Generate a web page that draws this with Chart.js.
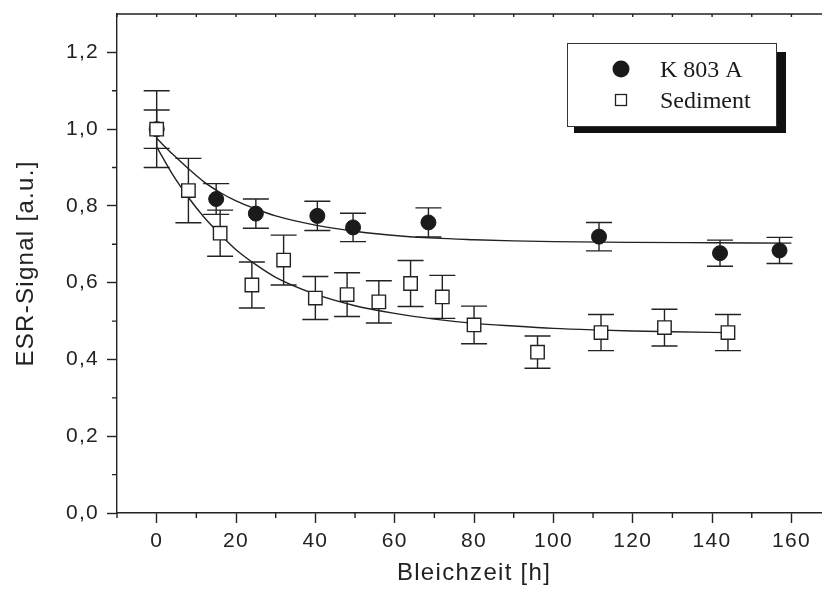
<!DOCTYPE html>
<html>
<head>
<meta charset="utf-8">
<script src="https://cdn.jsdelivr.net/npm/chart.js@4/dist/chart.umd.min.js"></script>
<style>
  html, body { margin: 0; padding: 0; background: #fff; overflow: hidden; }
  #wrap { width: 822px; height: 590px; overflow: hidden; }
</style>
</head>
<body>
<div id="wrap"><canvas id="c" width="832" height="590"></canvas></div>
<script>
// Bleaching curves: K 803 A vs. sediment
const K803_X = [0, 15, 25, 40.5, 49.5, 68.5, 111.5, 142, 157];
const K803_Y = [1.0, 0.818, 0.780, 0.774, 0.744, 0.757, 0.720, 0.677, 0.684];
const K803_ERR = [0.05, 0.04, 0.038, 0.038, 0.037, 0.038, 0.037, 0.034, 0.034];

const SED_X = [0, 8, 16, 24, 32, 40, 48, 56, 64, 72, 80, 96, 112, 128, 144];
const SED_Y = [1.0, 0.840, 0.729, 0.594, 0.659, 0.560, 0.569, 0.550, 0.598, 0.563, 0.490, 0.419, 0.470, 0.483, 0.470];
const SED_ERR = [0.1, 0.084, 0.06, 0.06, 0.065, 0.056, 0.057, 0.055, 0.06, 0.056, 0.049, 0.042, 0.047, 0.048, 0.047];

// fitted curves
const FIT_K_X = [0, 4, 8, 12, 16, 20, 25, 30, 40, 50, 60, 70, 80, 90, 100, 120, 140, 160];
const FIT_K_Y = [0.976, 0.935, 0.897, 0.862, 0.835, 0.813, 0.792, 0.774, 0.750, 0.734, 0.723, 0.716, 0.712, 0.709, 0.707, 0.705, 0.704, 0.703];
const FIT_S_X = [0, 4, 8, 12, 16, 20, 25, 30, 40, 50, 60, 70, 80, 90, 100, 110, 120, 130, 144];
const FIT_S_Y = [0.954, 0.882, 0.822, 0.770, 0.726, 0.686, 0.647, 0.614, 0.570, 0.540, 0.520, 0.505, 0.494, 0.487, 0.481, 0.477, 0.474, 0.472, 0.470];

const X_TICKS = [0, 20, 40, 60, 80, 100, 120, 140, 160];
const X_MINOR = [-10, 10, 30, 50, 70, 90, 110, 130, 150, 170];
const Y_TICKS = [0, 0.2, 0.4, 0.6, 0.8, 1.0, 1.2];
const Y_MINOR = [0.1, 0.3, 0.5, 0.7, 0.9, 1.1];

const LEGEND_LABELS = ['K 803 A', 'Sediment'];

const INK = '#222';
const PLOT_RIGHT = 831; // frame runs just past the cropped right edge
const toPts = (xs, ys) => xs.map((x, i) => ({ x, y: ys[i] }));

const errorBars = {
    id: 'errorBars',
    beforeDraw(chart) {
        // the reference lettering is a little wider than Liberation Sans
        chart.ctx.letterSpacing = '1.3px';
    },
    beforeDatasetsDraw(chart) {
        const { ctx, scales: { x, y } } = chart;
        const sets = [[K803_X, K803_Y, K803_ERR], [SED_X, SED_Y, SED_ERR]];
        ctx.save();
        ctx.strokeStyle = INK;
        ctx.lineWidth = 1.4;
        for (const [xs, ys, es] of sets) {
            xs.forEach((xv, i) => {
                const px = x.getPixelForValue(xv);
                const top = y.getPixelForValue(ys[i] + es[i]);
                const bot = y.getPixelForValue(ys[i] - es[i]);
                ctx.beginPath();
                ctx.moveTo(px, top); ctx.lineTo(px, bot);
                ctx.moveTo(px - 13, top); ctx.lineTo(px + 13, top);
                ctx.moveTo(px - 13, bot); ctx.lineTo(px + 13, bot);
                ctx.stroke();
            });
        }
        ctx.restore();
    },
};

const frame = {
    id: 'frame',
    afterDraw(chart) {
        const { ctx, chartArea: a, scales: { x, y } } = chart;
        ctx.save();
        ctx.strokeStyle = INK;
        ctx.lineWidth = 1.4;
        ctx.beginPath();
        // top axis
        ctx.moveTo(a.left, a.top); ctx.lineTo(a.right, a.top);
        for (const v of X_TICKS.concat(X_MINOR)) {
            const px = x.getPixelForValue(v);
            ctx.moveTo(px, a.top); ctx.lineTo(px, a.top + 3);
        }
        // minor ticks
        for (const v of X_MINOR) {
            const px = x.getPixelForValue(v);
            ctx.moveTo(px, a.bottom); ctx.lineTo(px, a.bottom + 5);
        }
        for (const v of Y_MINOR) {
            const py = y.getPixelForValue(v);
            ctx.moveTo(a.left, py); ctx.lineTo(a.left - 5, py);
        }
        ctx.stroke();

        // legend with drop shadow
        const bx = 567, by = 43, bw = 209, bh = 83;
        ctx.fillStyle = '#111';
        ctx.fillRect(bx + 7, by + 9, bw + 3, bh - 2);
        ctx.fillStyle = '#fff';
        ctx.fillRect(bx, by, bw, bh);
        ctx.lineWidth = 1;
        ctx.strokeStyle = '#333';
        ctx.strokeRect(bx + 0.5, by + 0.5, bw, bh);

        ctx.fillStyle = '#1a1a1a';
        ctx.beginPath();
        ctx.arc(621, 69, 8.5, 0, Math.PI * 2);
        ctx.fill();
        ctx.strokeStyle = INK;
        ctx.lineWidth = 1.3;
        ctx.strokeRect(615.5, 94.5, 11, 11);

        ctx.fillStyle = '#1a1a1a';
        ctx.letterSpacing = '0px';
        ctx.font = '24px "Liberation Serif", "Times New Roman", serif';
        ctx.textBaseline = 'alphabetic';
        ctx.fillText(LEGEND_LABELS[0], 660, 77);
        ctx.fillText(LEGEND_LABELS[1], 660, 108);
        ctx.restore();
    },
};

const tickFont = { family: '"Liberation Sans", Arial, sans-serif', size: 21 };
const titleFont = { family: '"Liberation Sans", Arial, sans-serif', size: 24 };

function build(canvas) {
    return new Chart(canvas, {
        type: 'scatter',
        data: {
            datasets: [
                {
                    label: LEGEND_LABELS[1],
                    data: toPts(SED_X, SED_Y),
                    pointStyle: 'rect',
                    pointRadius: 9.5,
                    backgroundColor: '#fff',
                    borderColor: INK,
                    borderWidth: 1.4,
                    order: 0,
                },
                {
                    label: LEGEND_LABELS[0],
                    data: toPts(K803_X, K803_Y),
                    pointStyle: 'circle',
                    pointRadius: 7.5,
                    backgroundColor: '#1a1a1a',
                    borderColor: '#1a1a1a',
                    borderWidth: 1,
                    order: 1,
                },
                {
                    label: 'fit K',
                    data: toPts(FIT_K_X, FIT_K_Y),
                    showLine: true,
                    pointRadius: 0,
                    borderColor: INK,
                    borderWidth: 1.4,
                    cubicInterpolationMode: 'monotone',
                    order: 2,
                },
                {
                    label: 'fit S',
                    data: toPts(FIT_S_X, FIT_S_Y),
                    showLine: true,
                    pointRadius: 0,
                    borderColor: INK,
                    borderWidth: 1.4,
                    cubicInterpolationMode: 'monotone',
                    order: 3,
                },
            ],
        },
        plugins: [errorBars, frame],
        options: {
            responsive: false,
            maintainAspectRatio: false,
            animation: false,
            devicePixelRatio: 1,
            layout: { padding: { top: 14, right: 0, left: 0, bottom: 0 } },
            plugins: { legend: { display: false }, tooltip: { enabled: false } },
            scales: {
                x: {
                    type: 'linear',
                    min: -10,
                    max: 170,
                    afterFit: s => { s.height = 77; s.paddingLeft = 0; s.paddingRight = 0; },
                    afterBuildTicks: s => { s.ticks = X_TICKS.map(v => ({ value: v })); },
                    grid: { drawOnChartArea: false, drawTicks: true, tickLength: 10, tickColor: INK, tickWidth: 1.4 },
                    border: { display: true, color: INK, width: 1.4 },
                    ticks: { color: INK, font: tickFont, padding: 6, maxRotation: 0 },
                    title: { display: true, text: 'Bleichzeit [h]', color: INK, font: titleFont, padding: { top: 0, bottom: 2 } },
                },
                y: {
                    type: 'linear',
                    min: 0,
                    max: 1.3,
                    afterFit: s => { s.width = 117; s.paddingTop = 0; s.paddingBottom = 0; },
                    afterBuildTicks: s => { s.ticks = Y_TICKS.map(v => ({ value: v })); },
                    grid: { drawOnChartArea: false, drawTicks: true, tickLength: 10, tickColor: INK, tickWidth: 1.4 },
                    border: { display: true, color: INK, width: 1.4 },
                    ticks: { color: INK, font: tickFont, padding: 8, callback: v => v.toFixed(1).replace('.', ',') },
                    title: { display: true, text: 'ESR-Signal [a.u.]', color: INK, font: titleFont, padding: { top: 12, bottom: 0 } },
                },
            },
        },
    });
}

const canvas = document.getElementById('c');
let chart = build(canvas);
// the layout keeps a few px free on the right; widen the (clipped) canvas to compensate
const miss = PLOT_RIGHT - chart.chartArea.right;
if (miss > 0.5) {
    chart.destroy();
    canvas.width = Math.round(832 + miss);
    canvas.height = 590;
    canvas.style.width = '';
    canvas.style.height = '';
    chart = build(canvas);
}
</script>
</body>
</html>
